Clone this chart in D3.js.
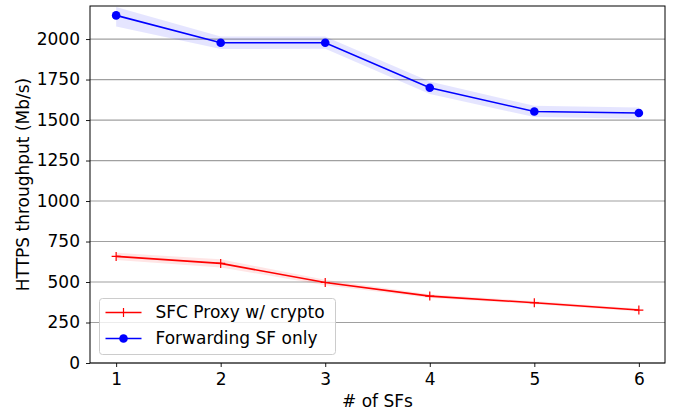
<!DOCTYPE html>
<html>
<head>
<meta charset="utf-8">
<script src="https://cdn.jsdelivr.net/npm/d3@7"></script>
<style>
  body { margin: 0; background: #fff; }
  svg text { font-family: "DejaVu Sans", sans-serif; fill: #000; }
  .tick text { font-size: 17px; }
  .grid line { stroke: #a0a0a0; stroke-width: 1.2; }
</style>
</head>
<body>
<div id="chart"></div>
<script>

// data

var sfs = [1, 2, 3, 4, 5, 6];

var proxyMean  = [658, 615, 497, 413, 372, 327],
    proxyLow   = [636, 590, 480, 402, 362, 318],
    proxyHigh  = [680, 640, 514, 424, 382, 336];

var fwdMean    = [2146, 1977, 1977, 1699, 1553, 1543],
    fwdLow     = [2078, 1938, 1940, 1660, 1518, 1508],
    fwdHigh    = [2198, 2016, 2016, 1738, 1588, 1578];

var yTicks = [0, 250, 500, 750, 1000, 1250, 1500, 1750, 2000];

var seriesNames = ["SFC Proxy w/ crypto", "Forwarding SF only"];

// layout

var width = 678,
    height = 410,
    marginLeft = 90,
    marginRight = 13,
    marginTop = 6,
    marginBottom = 47;

var widthAdj = width - marginLeft - marginRight,
    heightAdj = height - marginTop - marginBottom;

var xScale = d3.scaleLinear().domain([0.75, 6.25]).range([0, widthAdj]);
var yScale = d3.scaleLinear().domain([0, 2204]).range([heightAdj, 0]);

var svg = d3.select("#chart")
  .append("svg")
    .attr("width", width)
    .attr("height", height)
  .append("g")
    .attr("transform", "translate(" + marginLeft + "," + marginTop + ")");

// grid lines

svg.append("g")
  .attr("class", "grid")
  .selectAll("line")
  .data(yTicks)
  .enter()
  .append("line")
    .attr("x1", 0)
    .attr("x2", widthAdj)
    .attr("y1", function(d) { return yScale(d); })
    .attr("y2", function(d) { return yScale(d); });

// confidence bands

function band(low, high) {
  return d3.area()
    .x(function(d, i) { return xScale(sfs[i]); })
    .y0(function(d, i) { return yScale(low[i]); })
    .y1(function(d, i) { return yScale(high[i]); })(sfs);
}

svg.append("path")
  .attr("d", band(fwdLow, fwdHigh))
  .attr("fill", "blue")
  .attr("fill-opacity", 0.1);

svg.append("path")
  .attr("d", band(proxyLow, proxyHigh))
  .attr("fill", "red")
  .attr("fill-opacity", 0.1);

// lines

var line = d3.line()
  .x(function(d) { return xScale(d[0]); })
  .y(function(d) { return yScale(d[1]); });

var proxyPts = sfs.map(function(s, i) { return [s, proxyMean[i]]; }),
    fwdPts = sfs.map(function(s, i) { return [s, fwdMean[i]]; });

svg.append("path")
  .attr("d", line(proxyPts))
  .attr("fill", "none")
  .attr("stroke", "red")
  .attr("stroke-width", 1.6);

svg.append("path")
  .attr("d", line(fwdPts))
  .attr("fill", "none")
  .attr("stroke", "blue")
  .attr("stroke-width", 1.6);

// markers

function drawPlus(g, x, y) {
  g.append("path")
    .attr("d", "M" + (x - 4.5) + "," + y + "H" + (x + 4.5) + "M" + x + "," + (y - 4.5) + "V" + (y + 4.5))
    .attr("stroke", "red")
    .attr("stroke-width", 1.2);
}

proxyPts.forEach(function(d) { drawPlus(svg, xScale(d[0]), yScale(d[1])); });

svg.selectAll(".dot")
  .data(fwdPts)
  .enter()
  .append("circle")
    .attr("class", "dot")
    .attr("cx", function(d) { return xScale(d[0]); })
    .attr("cy", function(d) { return yScale(d[1]); })
    .attr("r", 4.3)
    .attr("fill", "blue");

// axes

svg.append("g")
  .attr("transform", "translate(0," + heightAdj + ")")
  .call(d3.axisBottom(xScale).tickValues(sfs).tickFormat(d3.format("d")).tickSize(4).tickPadding(6).tickSizeOuter(0))
  .call(function(g) { g.select(".domain").remove(); });

svg.append("g")
  .call(d3.axisLeft(yScale).tickValues(yTicks).tickFormat(d3.format("d")).tickSize(4).tickPadding(6).tickSizeOuter(0))
  .call(function(g) { g.select(".domain").remove(); });

svg.selectAll(".tick line").attr("stroke", "#000").attr("stroke-width", 0.9);

// frame

svg.append("rect")
  .attr("x", 0)
  .attr("y", 0)
  .attr("width", widthAdj)
  .attr("height", heightAdj)
  .attr("fill", "none")
  .attr("stroke", "#000")
  .attr("stroke-width", 1);

// axis labels

svg.append("text")
  .attr("x", widthAdj / 2)
  .attr("y", heightAdj + 44)
  .attr("text-anchor", "middle")
  .style("font-size", "17px")
  .text("# of SFs");

svg.append("text")
  .attr("transform", "translate(" + (-61) + "," + (heightAdj / 2) + ") rotate(-90)")
  .attr("text-anchor", "middle")
  .style("font-size", "17px")
  .text("HTTPS throughput (Mb/s)");

// legend

var legend = svg.append("g")
  .attr("transform", "translate(" + 9.5 + "," + 292.5 + ")");

legend.append("rect")
  .attr("width", 236)
  .attr("height", 56)
  .attr("rx", 3)
  .attr("fill", "#fff")
  .attr("fill-opacity", 0.8)
  .attr("stroke", "#ccc")
  .attr("stroke-width", 1);

var rowY = [14, 40];

legend.append("line")
  .attr("x1", 6).attr("x2", 42)
  .attr("y1", rowY[0]).attr("y2", rowY[0])
  .attr("stroke", "red").attr("stroke-width", 1.6);
drawPlus(legend, 24, rowY[0]);

legend.append("line")
  .attr("x1", 6).attr("x2", 42)
  .attr("y1", rowY[1]).attr("y2", rowY[1])
  .attr("stroke", "blue").attr("stroke-width", 1.6);
legend.append("circle")
  .attr("cx", 24).attr("cy", rowY[1]).attr("r", 4.3).attr("fill", "blue");

legend.selectAll(".legend_text")
  .data(seriesNames)
  .enter()
  .append("text")
    .attr("class", "legend_text")
    .attr("x", 56)
    .attr("y", function(d, i) { return rowY[i]; })
    .attr("dy", "0.35em")
    .style("font-size", "17px")
    .text(function(d) { return d; });

</script>
</body>
</html>
